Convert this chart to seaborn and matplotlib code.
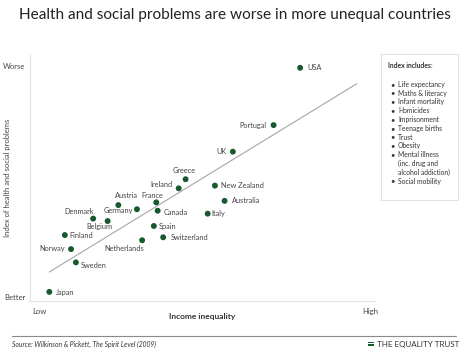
import matplotlib
matplotlib.use("Agg")
import matplotlib.pyplot as plt
import seaborn as sns
import pandas as pd
from matplotlib.patches import Rectangle
from matplotlib.lines import Line2D

# === Data (0-10 scale on both axes) ===
countries = ["USA", "Portugal", "UK", "New Zealand", "Australia", "Italy", "Greece",
             "Ireland", "France", "Canada", "Austria", "Germany", "Denmark", "Belgium",
             "Spain", "Switzerland", "Netherlands", "Finland", "Norway", "Sweden", "Japan"]
inequality = [7.83, 7.06, 5.88, 5.36, 5.64, 5.15, 4.51,
              4.31, 3.66, 3.70, 2.56, 3.10, 1.83, 2.25,
              3.59, 3.86, 3.25, 1.01, 1.19, 1.33, 0.56]
health_index = [9.48, 7.15, 6.07, 4.69, 4.07, 3.55, 4.95,
                4.58, 4.01, 3.67, 3.90, 3.73, 3.35, 3.25,
                3.05, 2.59, 2.47, 2.68, 2.11, 1.57, 0.37]

# trend line end points
trend_x = [0.56, 9.47]
trend_y = [1.18, 8.83]

x_ticks = [0.26, 9.86]
x_ticklabels = ["Low", "High"]
y_ticks = [0.16, 9.55]
y_ticklabels = ["Better", "Worse"]

index_items = ["Life expectancy", "Maths & literacy", "Infant mortality", "Homicides",
               "Imprisonment", "Teenage births", "Trust", "Obesity",
               "Mental illness\n(inc. drug and\nalcohol addiction)", "Social mobility"]

# label offsets in pixels (dx, dy downwards, alignment)
label_pos = {
    "USA": (7, 0, "left"), "Portugal": (-7, 0, "right"), "UK": (-6, 0, "right"),
    "New Zealand": (5.7, 0, "left"), "Australia": (7, 0, "left"), "Italy": (4, 0, "left"),
    "Greece": (-1.5, -8.3, "center"), "Ireland": (-6, -3.6, "right"),
    "Austria": (8, -9.3, "center"), "France": (-4, -7, "center"),
    "Germany": (-4.3, 1, "right"), "Canada": (5.6, 1.3, "left"),
    "Denmark": (0.7, -7, "right"), "Belgium": (-8.7, 5.3, "center"),
    "Spain": (5.3, 0.3, "left"), "Switzerland": (7.7, 0.4, "left"),
    "Netherlands": (2, 8.4, "right"), "Finland": (5, 0, "left"),
    "Norway": (-5.7, -1, "right"), "Sweden": (5, 3.4, "left"), "Japan": (6.4, 0.7, "left"),
}

df = pd.DataFrame({"country": countries, "inequality": inequality, "index": health_index})

sns.set_style("white")
plt.rcParams["font.family"] = ["Lato", "DejaVu Sans"]

GREEN = "#17592f"
TXT = "#333333"

fig = plt.figure(figsize=(4.6, 3.55), dpi=100)
ax = fig.add_axes([30 / 460, 54 / 355, 345 / 460, 246 / 355])

ax.plot(trend_x, trend_y, color="#a5a5a5", lw=0.8, zorder=1)
sns.scatterplot(data=df, x="inequality", y="index", ax=ax, color=GREEN,
                s=18, edgecolor="none", zorder=2)

px = 0.72  # pixels -> points at dpi 100
for c, xv, yv in zip(countries, inequality, health_index):
    dx, dy, ha = label_pos[c]
    ax.annotate(c, (xv, yv), xytext=(dx * px, -dy * px), textcoords="offset points",
                ha=ha, va="center", fontsize=5.3, color="#444444")

ax.set_xlim(0, 10)
ax.set_ylim(0, 10)
ax.set_xticks(x_ticks)
ax.set_xticklabels(x_ticklabels)
ax.set_yticks(y_ticks)
ax.set_yticklabels(y_ticklabels)
ax.tick_params(axis="both", length=0, labelsize=5.5, labelcolor="#444444")
ax.tick_params(axis="x", pad=5)
ax.tick_params(axis="y", pad=3.5)

sns.despine(ax=ax)
for s in ["left", "bottom"]:
    ax.spines[s].set_color("#e3e3e3")
    ax.spines[s].set_linewidth(0.8)

ax.set_xlabel("Income inequality", fontsize=6, fontweight="bold", color=TXT)
ax.xaxis.set_label_coords(0.5, -0.061)
ax.xaxis.label.set_va("center")
ax.set_ylabel("Index of health and social problems", fontsize=5.5, color="#444444")
ax.yaxis.set_label_coords(-0.064, 0.5)
ax.yaxis.label.set_va("center")

# title
fig.text(0.51, 1 - 15 / 355, "Health and social problems are worse in more unequal countries",
         ha="center", va="center", fontsize=11.1, color="#222222")

# "Index includes" box
box = fig.add_axes([381 / 460, (355 - 200) / 355, 77 / 460, 146 / 355])
box.set_xticks([])
box.set_yticks([])
for s in box.spines.values():
    s.set_color("#e3e3e3")
    s.set_linewidth(0.8)

def by(py):
    return (200 - py) / 146

box.text(0.09, by(65.7), "Index includes:", fontsize=4.9, fontweight="bold",
         color=TXT, va="center", ha="left")
row = 0
for item in index_items:
    for j, line in enumerate(item.split("\n")):
        yy = by(84.3 + row * 8.8)
        if j == 0:
            box.text(0.115, yy, "\u2022", fontsize=5.5, color=TXT, va="center", ha="left")
        box.text(0.22, yy, line, fontsize=4.9, color=TXT, va="center", ha="left")
        row += 1

# footer
fig.add_artist(Line2D([12 / 460, 456 / 460], [1 - 335.7 / 355] * 2, color="#8a8a8a", lw=0.8))
fig.text(12 / 460, 1 - 344 / 355, "Source: Wilkinson & Pickett, The Spirit Level (2009)",
         fontsize=4.9, style="italic", color=TXT, va="center", ha="left")
for yb in [343.3, 346.0]:
    fig.add_artist(Rectangle((368 / 460, 1 - yb / 355), 6 / 460, 1.6 / 355,
                             transform=fig.transFigure, color=GREEN, lw=0))
fig.text(377 / 460, 1 - 345 / 355, "THE EQUALITY TRUST", fontsize=5.8, color=TXT,
         va="center", ha="left")

fig.savefig("out.png", dpi=100)
